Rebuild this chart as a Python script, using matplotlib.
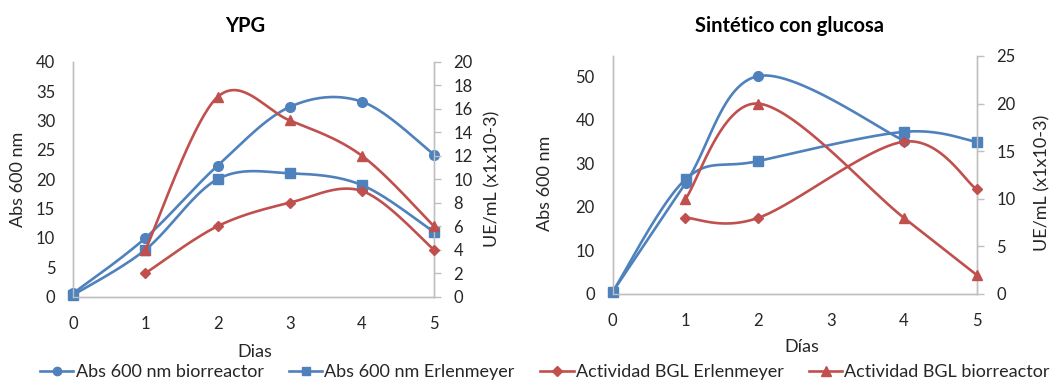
import numpy as np
import matplotlib.pyplot as plt
from matplotlib.lines import Line2D

plt.rcParams['font.family'] = ['Lato', 'DejaVu Sans']

W, H = 1064, 381

# Days
dias = [0, 1, 2, 3, 4, 5]

# YPG medium
ypg_abs_bio = [0.6, 10.0, 22.3, 32.3, 33.2, 24.2]
ypg_abs_erl = [0.3, 8.0, 20.0, 21.0, 19.0, 11.0]
ypg_bgl_erl = [np.nan, 2.0, 6.0, 8.0, 9.0, 4.0]
ypg_bgl_bio = [np.nan, 4.0, 17.0, 15.0, 12.0, 6.0]

# Synthetic medium with glucose (no sample on day 3)
sg_abs_bio = [0.5, 25.4, 50.0, np.nan, 35.2, np.nan]
sg_abs_erl = [0.5, 26.3, 30.5, np.nan, 37.2, 34.9]
sg_bgl_erl = [np.nan, 8.0, 8.0, np.nan, 16.0, 11.0]
sg_bgl_bio = [np.nan, 10.0, 20.0, np.nan, 8.0, 2.0]

BLUE = '#4F81BD'
RED = '#C0504D'
GRID = '#BFBFBF'
TXT = '#262626'


def smooth(x, y, n=40):
    # Bezier smoothing through the points (spreadsheet style curves)
    x = np.asarray(x, float)
    y = np.asarray(y, float)
    ok = ~np.isnan(y)
    p = np.column_stack([x[ok], y[ok]])
    m = len(p)
    if m < 3:
        return p[:, 0], p[:, 1]
    t = np.linspace(0, 1, n)[:, None]
    out = []
    for i in range(m - 1):
        p0 = p[max(i - 1, 0)]
        p1 = p[i]
        p2 = p[i + 1]
        p3 = p[min(i + 2, m - 1)]
        c1 = p1 + (p2 - p0) / 6.0
        c2 = p2 - (p3 - p1) / 6.0
        seg = ((1 - t) ** 3) * p1 + 3 * ((1 - t) ** 2) * t * c1 \
            + 3 * (1 - t) * t ** 2 * c2 + t ** 3 * p2
        out.append(seg if i == 0 else seg[1:])
    out = np.vstack(out)
    return out[:, 0], out[:, 1]


def draw(ax, x, y, color, marker, ms):
    sx, sy = smooth(x, y)
    ax.plot(sx, sy, color=color, lw=1.9, clip_on=False, zorder=3)
    ax.plot(x, y, ls='none', marker=marker, ms=ms, color=color,
            clip_on=False, zorder=4)


def style(ax, ax2, ymax, ymax2, step, step2):
    ax.set_xlim(0, 5)
    ax.set_ylim(0, ymax)
    ax2.set_ylim(0, ymax2)
    ax.set_xticks(dias)
    ax.set_yticks(np.arange(0, ymax + 0.01, step))
    ax2.set_yticks(np.arange(0, ymax2 + 0.01, step2))
    for a in (ax, ax2):
        a.spines['top'].set_visible(False)
        for s in ('left', 'bottom', 'right'):
            a.spines[s].set_color(GRID)
            a.spines[s].set_linewidth(1.0)
    ax.tick_params(axis='y', length=0, pad=13, labelsize=12, labelcolor=TXT)
    ax.tick_params(axis='x', length=0, pad=14, labelsize=12, labelcolor=TXT)
    ax2.tick_params(axis='y', length=5, width=1, color=GRID, pad=9,
                    labelsize=12, labelcolor=TXT)


fig = plt.figure(figsize=(W / 100, H / 100), dpi=100)


def axes_px(x0, x1, ytop, ybot):
    return fig.add_axes([x0 / W, 1 - ybot / H, (x1 - x0) / W, (ybot - ytop) / H])


# YPG panel
ax1 = axes_px(73.3, 434, 61.7, 296.7)
ax1b = ax1.twinx()
draw(ax1, dias, ypg_abs_bio, BLUE, 'o', 7)
draw(ax1, dias, ypg_abs_erl, BLUE, 's', 7)
draw(ax1b, dias, ypg_bgl_erl, RED, 'D', 5.5)
draw(ax1b, dias, ypg_bgl_bio, RED, '^', 7.5)
style(ax1, ax1b, 40, 20, 5, 2)

# Synthetic + glucose panel
ax2 = axes_px(612.7, 976.7, 56, 294)
ax2b = ax2.twinx()
draw(ax2, dias, sg_abs_bio, BLUE, 'o', 7)
draw(ax2, dias, sg_abs_erl, BLUE, 's', 7)
draw(ax2b, dias, sg_bgl_erl, RED, 'D', 5.5)
draw(ax2b, dias, sg_bgl_bio, RED, '^', 7.5)
style(ax2, ax2b, 54.6, 25, 10, 5)


def ftext(x, y, s, **kw):
    kw.setdefault('color', TXT)
    fig.text(x / W, 1 - y / H, s, ha='center', va='center', **kw)


ftext(245, 25.5, 'YPG', fontsize=14.5, fontweight='bold', color='black')
ftext(790, 25.5, 'Sintético con glucosa', fontsize=14.5, fontweight='bold', color='black')
ftext(255, 352, 'Dias', fontsize=13)
ftext(802, 347.5, 'Días', fontsize=13)
ftext(18, 179, 'Abs 600 nm', fontsize=13, rotation=90)
ftext(492, 178.5, 'UE/mL (x1x10-3)', fontsize=13, rotation=90)
ftext(545, 183.5, 'Abs 600 nm', fontsize=13, rotation=90)
ftext(1042, 183, 'UE/mL (x1x10-3)', fontsize=13, rotation=90)

handles = [
    Line2D([], [], color=BLUE, lw=1.9, marker='o', ms=6),
    Line2D([], [], color=BLUE, lw=1.9, marker='s', ms=6),
    Line2D([], [], color=RED, lw=1.9, marker='D', ms=5),
    Line2D([], [], color=RED, lw=1.9, marker='^', ms=6.5),
]
labels = ['Abs 600 nm biorreactor', 'Abs 600 nm Erlenmeyer',
          'Actividad BGL Erlenmeyer', 'Actividad BGL biorreactor']
leg = fig.legend(handles, labels, loc='center', bbox_to_anchor=(545 / W, 1 - 372 / H),
                 ncol=4, frameon=False, fontsize=13, handlelength=1.85,
                 handletextpad=0.12, columnspacing=1.4, borderpad=0)
for t in leg.get_texts():
    t.set_color(TXT)

fig.savefig('out.png', dpi=100)
